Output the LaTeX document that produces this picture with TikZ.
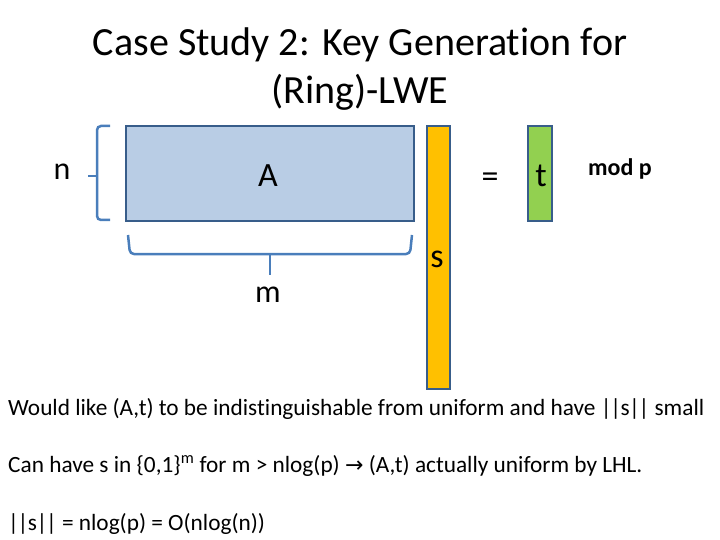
\documentclass[tikz,border=0pt]{standalone}
\usepackage{fontspec}
\setmainfont[Ligatures=NoCommon]{Carlito}
\newfontfamily\dejavu{DejaVu Sans}
\definecolor{bordc}{HTML}{385D8A}
\definecolor{bracec}{HTML}{4A7EBB}
\definecolor{afill}{HTML}{B9CDE5}
\definecolor{sfill}{HTML}{FFC000}
\definecolor{tfill}{HTML}{92D050}
\newcommand{\nrm}{|\kern-1.2pt|\kern-0.5pt s\kern-0.5pt|\kern-1.2pt|}
\begin{document}
\begin{tikzpicture}[x=1pt,y=-1pt,
  box/.style={draw=bordc,line width=2.5pt,inner sep=0pt,minimum width=#1},
  brc/.style={draw=bracec,line width=2.5pt,rounded corners=4pt},
  lbl/.style={inner sep=0pt,font=\fontsize{34}{40}\selectfont},
  body/.style={inner sep=0pt,anchor=west,font=\fontsize{23.3}{28}\selectfont}]
\useasboundingbox (0,0) rectangle (720,540);
\node[inner sep=0pt,align=center,font=\fontsize{40}{48}\selectfont] (title) at (360,69) {Case Study 2: Key Generation for\\(Ring)-LWE};
% matrix A
\node[box=288pt,minimum height=95pt,fill=afill] (A) at (270,173.5) {};
\node[lbl] (Alab) at (268,176) {A};
% s
\node[box=23pt,minimum height=263pt,fill=sfill] (s) at (438.5,257.5) {};
\node[lbl] (slab) at (437,259) {s};
% equals
\node[lbl] (eq) at (490,180) {=};
% t
\node[box=24pt,minimum height=95pt,fill=tfill] (t) at (540,173.5) {};
\node[lbl] (tlab) at (541,176) {t};
\node[inner sep=0pt,font=\fontsize{24}{28}\selectfont\bfseries] (mod) at (620,169) {mod p};
% n brace
\coordinate (n1) at (110,126);
\coordinate (n2) at (110,220);
\coordinate (ntip) at (88,176);
\draw[brc] (n1) -- (97,126) -- (97,220) -- (n2);
\draw[brc] (97,176) -- (ntip);
\node[lbl,font=\fontsize{32}{38}\selectfont] (nlab) at (62,172) {n};
% m brace
\coordinate (m1) at (128,235);
\coordinate (m2) at (412,235);
\coordinate (mtip) at (270,275);
\draw[brc] (m1) -- (130,254) -- (410,254) -- (m2);
\draw[brc] (270,254) -- (mtip);
\node[lbl,font=\fontsize{32}{38}\selectfont] (mlab) at (268,295) {m};
% body text
\node[body] (l1) at (8,409) {Would like (A,t) to be indistinguishable from uniform and have \nrm\ small};
\node[body] (l2) at (8,466) {Can have s in \{0,1\}\textsuperscript{m} for m > nlog(p) {\dejavu\fontsize{22}{26}\selectfont →} (A,t) actually uniform by LHL.};
\node[body] (l3) at (8,524) {\nrm\ = nlog(p) = O(nlog(n))};
\end{tikzpicture}
\end{document}
